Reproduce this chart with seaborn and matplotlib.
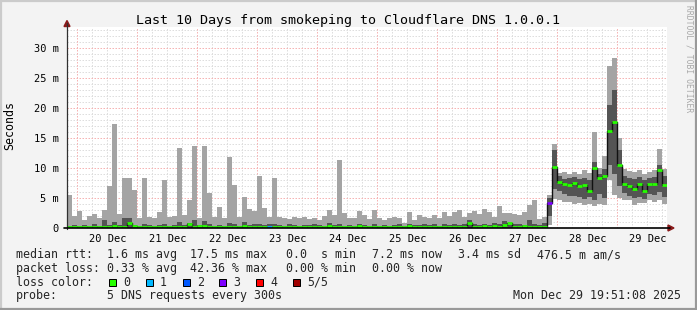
import matplotlib
matplotlib.use("Agg")
import matplotlib.pyplot as plt
import numpy as np
import pandas as pd
import seaborn as sns
from matplotlib.patches import Polygon, Rectangle
from matplotlib.lines import Line2D

# ---------------- data (2-hour bins, 120 bins over 10 days) ----------------
bin_hours = 2.0
smoke_max = [
    5.5, 2.0, 2.8, 1.4, 2.0, 2.3, 1.6, 3.0, 7.0, 17.3,
    2.4, 8.3, 8.3, 6.3, 1.6, 8.3, 1.8, 1.6, 2.6, 8.0,
    1.9, 2.0, 13.4, 2.1, 4.7, 13.7, 1.6, 13.7, 5.9, 1.9,
    3.5, 1.6, 11.9, 7.2, 1.9, 5.2, 3.1, 2.9, 8.6, 3.4,
    1.9, 8.3, 1.9, 1.7, 1.5, 1.8, 1.6, 1.9, 1.5, 1.7,
    1.4, 2.0, 3.0, 2.2, 11.3, 2.5, 1.7, 1.6, 2.9, 2.2,
    1.5, 3.0, 1.6, 1.3, 1.7, 1.9, 1.7, 0.9, 2.7, 1.4,
    2.2, 1.9, 1.7, 2.2, 1.6, 2.7, 2.0, 2.7, 3.0, 1.9,
    2.5, 2.9, 2.4, 3.1, 2.7, 1.9, 3.6, 2.5, 2.5, 2.4,
    2.2, 2.7, 3.8, 4.6, 1.5, 1.8, 5.5, 14.0, 9.2, 9.4,
    9.0, 9.3, 9.0, 9.6, 9.2, 16.0, 10.0, 12.0, 27.0, 28.3,
    15.0, 9.8, 9.5, 9.4, 9.6, 9.0, 9.4, 9.6, 13.2, 9.8]
smoke_dark_top = [
    0.4, 0.5, 0.3, 0.5, 0.4, 0.6, 0.4, 1.3, 0.5, 1.0,
    0.5, 1.7, 1.6, 0.5, 0.4, 0.6, 0.5, 0.4, 0.5, 0.6,
    0.4, 0.5, 1.0, 0.5, 0.8, 1.3, 0.5, 1.2, 0.6, 0.4,
    0.5, 0.4, 0.8, 0.6, 0.4, 1.0, 0.5, 0.6, 0.7, 0.5,
    0.6, 0.7, 0.5, 0.4, 0.6, 0.5, 0.4, 0.5, 0.5, 0.6,
    0.5, 0.4, 0.9, 0.5, 0.6, 0.4, 0.5, 0.4, 0.6, 0.5,
    0.4, 0.6, 0.4, 0.5, 0.4, 0.5, 0.6, 0.4, 0.6, 0.5,
    0.5, 0.6, 0.5, 0.6, 0.4, 0.7, 0.5, 0.6, 0.5, 0.6,
    1.3, 0.6, 0.5, 0.7, 0.5, 0.9, 0.6, 1.1, 0.5, 0.6,
    0.6, 0.5, 1.3, 0.7, 0.5, 0.8, 5.0, 13.0, 8.6, 8.2,
    8.4, 8.5, 8.2, 8.4, 8.0, 11.0, 9.0, 9.8, 20.5, 23.0,
    13.0, 8.6, 8.3, 8.2, 8.5, 8.0, 8.4, 8.5, 10.5, 8.6]
smoke_dark_bottom = [
    0, 0, 0, 0, 0, 0, 0, 0, 0, 0,
    0, 0, 0, 0, 0, 0, 0, 0, 0, 0,
    0, 0, 0, 0, 0, 0, 0, 0, 0, 0,
    0, 0, 0, 0, 0, 0, 0, 0, 0, 0,
    0, 0, 0, 0, 0, 0, 0, 0, 0, 0,
    0, 0, 0, 0, 0, 0, 0, 0, 0, 0,
    0, 0, 0, 0, 0, 0, 0, 0, 0, 0,
    0, 0, 0, 0, 0, 0, 0, 0, 0, 0,
    0, 0, 0, 0, 0, 0, 0, 0, 0, 0,
    0, 0, 0, 0, 0, 0, 2.0, 6.5, 6.2, 5.6,
    5.4, 5.3, 5.2, 4.9, 5.2, 4.6, 5.6, 5.0, 10.5, 9.0,
    7.0, 5.8, 5.4, 5.0, 5.2, 4.8, 5.6, 5.5, 6.0, 5.2]
smoke_min = [
    0, 0, 0, 0, 0, 0, 0, 0, 0, 0,
    0, 0, 0, 0, 0, 0, 0, 0, 0, 0,
    0, 0, 0, 0, 0, 0, 0, 0, 0, 0,
    0, 0, 0, 0, 0, 0, 0, 0, 0, 0,
    0, 0, 0, 0, 0, 0, 0, 0, 0, 0,
    0, 0, 0, 0, 0, 0, 0, 0, 0, 0,
    0, 0, 0, 0, 0, 0, 0, 0, 0, 0,
    0, 0, 0, 0, 0, 0, 0, 0, 0, 0,
    0, 0, 0, 0, 0, 0, 0, 0, 0, 0,
    0, 0, 0, 0, 0, 0, 0.5, 4.8, 4.6, 4.4,
    4.3, 4.0, 4.2, 3.8, 4.0, 3.6, 4.0, 3.8, 8.0, 5.5,
    5.0, 4.7, 4.6, 3.8, 4.2, 4.2, 4.6, 4.3, 4.6, 4.0]
median_rtt = [
    0.12, 0.12, 0.12, 0.12, 0.12, 0.12, 0.12, 0.15, 0.12, 0.3,
    0.12, 0.2, 0.8, 0.3, 0.12, 0.15, 0.12, 0.12, 0.12, 0.15,
    0.12, 0.12, 0.2, 0.12, 0.7, 0.15, 0.3, 0.3, 0.15, 0.12,
    0.12, 0.12, 0.15, 0.2, 0.12, 0.3, 0.12, 0.12, 0.15, 0.12,
    0.12, 0.2, 0.12, 0.12, 0.12, 0.12, 0.12, 0.12, 0.12, 0.12,
    0.12, 0.12, 0.3, 0.12, 0.15, 0.12, 0.12, 0.12, 0.3, 0.12,
    0.12, 0.12, 0.12, 0.12, 0.12, 0.12, 0.12, 0.12, 0.4, 0.12,
    0.12, 0.12, 0.12, 0.12, 0.12, 0.12, 0.12, 0.12, 0.12, 0.12,
    0.8, 0.12, 0.12, 0.3, 0.12, 0.4, 0.12, 0.5, 0.8, 0.12,
    0.12, 0.3, 0.12, 0.12, 0.12, 0.12, 4.2, 10.1, 7.7, 7.4,
    7.1, 7.5, 7.0, 7.2, 6.2, 10.0, 8.4, 8.6, 16.2, 17.6,
    10.5, 7.3, 7.0, 6.5, 7.3, 6.1, 7.4, 7.3, 9.6, 7.2]
loss_count = [0] * 40 + [1] + [0] * 55 + [3] + [0] * 23

loss_labels = ["0", "1", "2", "3", "4", "5/5"]
loss_colors = ["#26ff00", "#00b8ff", "#0059ff", "#7e00ff", "#ff0000", "#a00000"]

day_labels = ["20 Dec", "21 Dec", "22 Dec", "23 Dec", "24 Dec",
              "25 Dec", "26 Dec", "27 Dec", "28 Dec", "29 Dec"]
first_midnight_h = 4.148  # start is Dec 19 19:51:08
y_tick_vals = [0, 5, 10, 15, 20, 25, 30]
y_tick_labels = ["0", "5 m", "10 m", "15 m", "20 m", "25 m", "30 m"]

title = "Last 10 Days from smokeping to Cloudflare DNS 1.0.0.1"
row1 = [(16, "median rtt:"), (107, "1.6 ms avg"), (190, "17.5 ms max"),
        (286, "0.0  s min"), (372, "7.2 ms now"), (458, "3.4 ms sd"),
        (537, "476.5 m am/s")]
row2 = [(16, "packet loss:"), (107, "0.33 % avg"), (190, "42.36 % max"),
        (286, "0.00 % min"), (372, "0.00 % now")]
probe_text = "5 DNS requests every 300s"
date_text = "Mon Dec 29 19:51:08 2025"

# ---------------- figure ----------------
W, H = 697, 310
sns.set_style("white")
plt.rcParams["font.family"] = ["DejaVu Sans Mono"]
MONO = "DejaVu Sans Mono"

fig = plt.figure(figsize=(W / 100, H / 100), dpi=100, facecolor="#F3F3F3")
L, R, B, T = 67, 667, 228, 27
ax = fig.add_axes([L / W, 1 - B / H, (R - L) / W, (B - T) / H])
ax.set_facecolor("white")
ax.set_xlim(0, 240)
ax.set_ylim(0, 33.5)
for s in ax.spines.values():
    s.set_visible(False)

def fx(x):
    return x / W

def fy(y):
    return 1 - y / H

# grid
for v in np.arange(1, 34):
    if v % 5 == 0:
        ax.axhline(v, color="#f6b4b4", lw=0.72, ls=(0, (1.5, 1.5)), zorder=0.5)
    else:
        ax.axhline(v, color="#dedede", lw=0.72, ls=(0, (1.5, 1.5)), zorder=0.4)
for k in range(40):
    xv = first_midnight_h + 6 * k
    if xv > 240:
        break
    if k % 4 == 0:
        ax.axvline(xv, color="#f6b4b4", lw=0.72, ls=(0, (1.5, 1.5)), zorder=0.5)
    else:
        ax.axvline(xv, color="#dedede", lw=0.72, ls=(0, (1.5, 1.5)), zorder=0.4)

# smoke
n = len(median_rtt)
x0 = np.arange(n) * bin_hours
lo = np.array(smoke_min)
hi = np.array(smoke_max)
dlo = np.array(smoke_dark_bottom)
dhi = np.array(smoke_dark_top)
ax.bar(x0, hi - lo, bottom=lo, width=bin_hours, align="edge",
       color="#a4a4a4", lw=0, antialiased=False, zorder=1)
ax.bar(x0, dhi - dlo, bottom=dlo, width=bin_hours, align="edge",
       color="#545454", lw=0, antialiased=False, zorder=1.1)

# median line (black steps) with loss-coloured segments
df = pd.DataFrame({"t": np.append(x0, 240.0),
                   "rtt": np.append(median_rtt, median_rtt[-1])})
sns.lineplot(data=df, x="t", y="rtt", drawstyle="steps-post", color="#111111",
             lw=1.0, estimator=None, ax=ax, zorder=2)
seg_cols = [loss_colors[c] for c in loss_count]
ax.hlines(median_rtt, x0 + 0.15, x0 + bin_hours - 0.15, colors=seg_cols,
          lw=2.0, zorder=3)

# ticks
ax.set_yticks(y_tick_vals)
ax.set_yticklabels(y_tick_labels)
noon = [first_midnight_h + 12 + 24 * i for i in range(len(day_labels))]
ax.set_xticks(noon)
ax.set_xticklabels(day_labels)
ax.tick_params(axis="y", length=0, pad=5.8, labelsize=7.5, colors="#000000")
ax.tick_params(axis="x", length=0, pad=4.0, labelsize=7.5, colors="#000000")
ax.set_xlabel("")
ax.set_ylabel("")

# axes lines and arrows
fig.add_artist(Line2D([fx(67), fx(67)], [fy(228.5), fy(23)], color="#303030",
                      lw=0.9, transform=fig.transFigure))
fig.add_artist(Line2D([fx(64), fx(670)], [fy(228), fy(228)], color="#000000",
                      lw=1.2, transform=fig.transFigure))
fig.add_artist(Polygon([[fx(64), fy(26.5)], [fx(70), fy(26.5)], [fx(67), fy(20.5)]],
                       closed=True, color="#8a1a1a", transform=fig.transFigure))
fig.add_artist(Polygon([[fx(668), fy(225)], [fx(668), fy(231)], [fx(674), fy(228)]],
                       closed=True, color="#8a1a1a", transform=fig.transFigure))

# texts
fig.text(fx(348), fy(24), title, ha="center", va="baseline", fontsize=9.6,
         family=MONO, color="black")
fig.text(fx(10), fy(125), "Seconds", ha="center", va="center", rotation=90,
         fontsize=8.4, family=MONO, color="black")
fig.text(fx(688.5), fy(5), "RRDTOOL / TOBI OETIKER", ha="center", va="top",
         rotation=270, fontsize=5.8, family=MONO, color="#a8a8a8")

for xp, s in row1:
    fig.text(fx(xp), fy(258.3), s, ha="left", va="baseline", fontsize=8.4, family=MONO)
for xp, s in row2:
    fig.text(fx(xp), fy(272), s, ha="left", va="baseline", fontsize=8.4, family=MONO)
fig.text(fx(16), fy(285.7), "loss color:", ha="left", va="baseline", fontsize=8.4, family=MONO)
box_x = [109, 146, 183, 219, 256, 293]
for bx, lab, col in zip(box_x, loss_labels, loss_colors):
    fig.add_artist(Rectangle((fx(bx), fy(286)), 7 / W, 7 / H, facecolor=col,
                             edgecolor="black", lw=0.72, transform=fig.transFigure))
    fig.text(fx(bx + 14), fy(285.7), lab, ha="left", va="baseline", fontsize=8.4, family=MONO)
fig.text(fx(16), fy(299.3), "probe:", ha="left", va="baseline", fontsize=8.4, family=MONO)
fig.text(fx(107), fy(299.3), probe_text, ha="left", va="baseline", fontsize=8.4, family=MONO)
fig.text(fx(681), fy(299.3), date_text, ha="right", va="baseline", fontsize=8.4, family=MONO)

# outer border (3D shade)
fig.add_artist(Line2D([0, 1], [fy(0.7), fy(0.7)], color="#CBCBCB", lw=1.6, transform=fig.transFigure))
fig.add_artist(Line2D([fx(0.7), fx(0.7)], [0, 1], color="#CBCBCB", lw=1.6, transform=fig.transFigure))
fig.add_artist(Line2D([0, 1], [fy(309.2), fy(309.2)], color="#999999", lw=1.6, transform=fig.transFigure))
fig.add_artist(Line2D([fx(696.3), fx(696.3)], [0, 1], color="#999999", lw=1.6, transform=fig.transFigure))

fig.savefig("out.png", dpi=100, facecolor=fig.get_facecolor())
